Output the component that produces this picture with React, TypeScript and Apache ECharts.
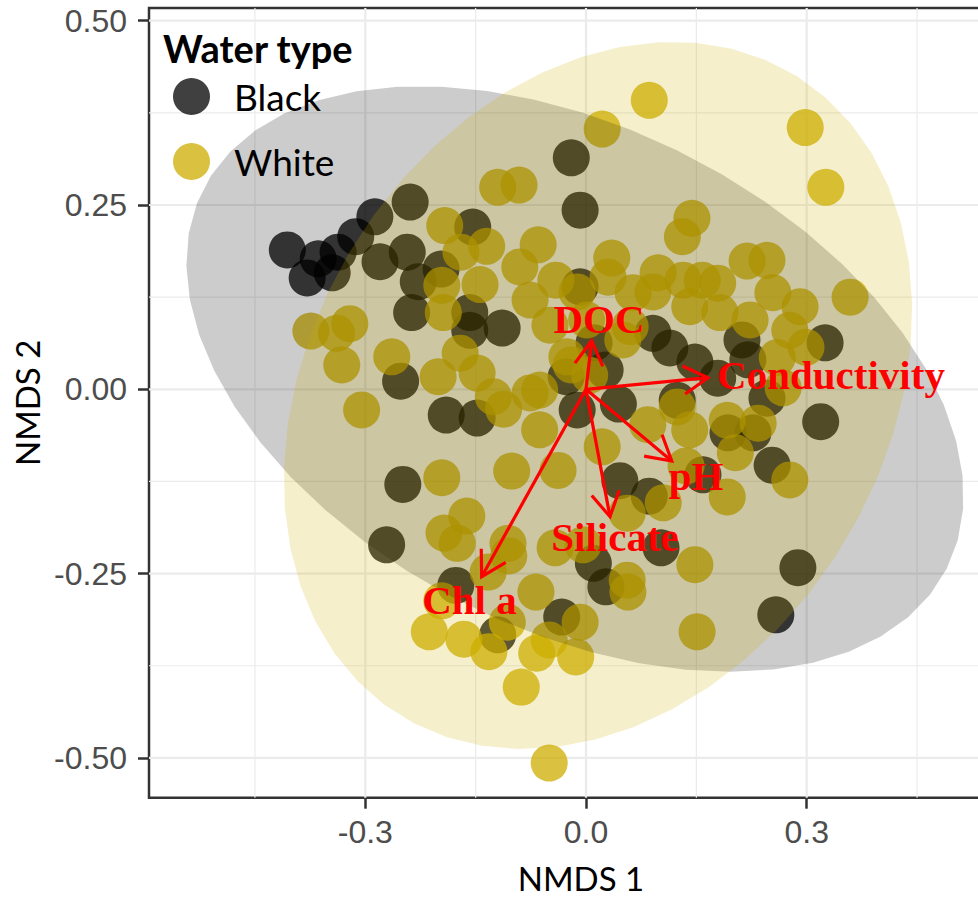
import { useEffect, useRef } from "react";
import * as echarts from "echarts";

// Axis layout (NMDS scores)
const xRange = [-0.594, 0.5804];
const yRange = [-0.554, 0.5172];
const xTicks = [-0.3, 0.0, 0.3];
const xMinor = [-0.45, -0.15, 0.15, 0.45];
const yTicks = [-0.5, -0.25, 0.0, 0.25, 0.5];
const yMinor = [-0.375, -0.125, 0.125, 0.375];

// Site scores by water type
const blackPoints = [
  [-0.406, 0.189], [-0.379, 0.151], [-0.364, 0.177], [-0.345, 0.158], [-0.337, 0.186],
  [-0.313, 0.207], [-0.287, 0.234], [-0.239, 0.254], [-0.28, 0.173], [-0.243, 0.186],
  [-0.228, 0.146], [-0.197, 0.163], [-0.154, 0.22], [-0.237, 0.104], [-0.158, 0.104],
  [-0.158, 0.08], [-0.114, 0.083], [-0.252, 0.011], [-0.19, -0.035], [-0.148, -0.039],
  [-0.249, -0.129], [-0.271, -0.211], [-0.02, 0.314], [-0.008, 0.243], [-0.008, 0.139],
  [0.091, 0.076], [0.114, 0.056], [0.148, 0.037], [0.026, 0.026], [-0.027, 0.017],
  [-0.012, -0.028], [0.044, -0.02], [0.124, -0.015], [0.179, 0.015], [0.212, 0.067],
  [0.22, 0.04], [0.246, -0.012], [0.325, 0.063], [0.319, -0.044], [0.193, -0.059],
  [0.227, -0.059], [0.253, -0.103], [0.046, -0.124], [0.086, -0.145], [0.159, -0.116],
  [0.102, -0.215], [0.01, -0.236], [0.027, -0.268], [-0.033, -0.309], [0.288, -0.242],
  [0.258, -0.306], [-0.177, -0.266], [-0.12, -0.333], [0.011, 0.063],
];

const whitePoints = [
  [0.086, 0.392], [0.022, 0.353], [0.298, 0.355], [0.326, 0.274], [-0.12, 0.274],
  [-0.091, 0.277], [0.144, 0.232], [0.131, 0.207], [-0.192, 0.222], [-0.135, 0.194],
  [-0.17, 0.186], [-0.065, 0.196], [-0.09, 0.166], [0.035, 0.178], [0.03, 0.152],
  [0.219, 0.174], [0.246, 0.175], [0.098, 0.158], [0.254, 0.131], [0.359, 0.125],
  [0.291, 0.112], [-0.041, 0.148], [0.158, 0.148], [0.179, 0.144], [0.132, 0.148],
  [0.091, 0.132], [0.064, 0.131], [-0.012, 0.132], [-0.076, 0.121], [-0.144, 0.142],
  [-0.194, 0.104], [-0.049, 0.087], [0.001, 0.094], [0.06, 0.085], [0.141, 0.112],
  [0.182, 0.104], [0.223, 0.094], [0.277, 0.08], [0.299, 0.057], [0.26, 0.043],
  [0.268, 0.002], [0.277, -0.123], [0.234, -0.046], [0.192, -0.042], [0.203, -0.086],
  [0.141, -0.055], [0.084, -0.048], [0.124, -0.024], [0.136, -0.104], [0.192, -0.146],
  [0.105, -0.154], [0.056, -0.168], [0.022, -0.078], [-0.038, -0.11], [-0.063, -0.055],
  [-0.063, -0.001], [0.005, 0.019], [-0.026, 0.044], [0.05, 0.067], [-0.374, 0.079],
  [-0.339, 0.076], [-0.321, 0.089], [-0.332, 0.033], [-0.305, -0.028], [-0.264, 0.044],
  [-0.201, 0.017], [-0.171, 0.049], [-0.148, 0.022], [-0.126, -0.01], [-0.112, -0.027],
  [-0.076, -0.005], [-0.101, -0.111], [-0.196, -0.12], [-0.162, -0.172], [-0.193, -0.195],
  [-0.175, -0.209], [-0.106, -0.209], [-0.042, -0.215], [-0.004, -0.211], [-0.133, -0.248],
  [-0.105, -0.226], [-0.068, -0.275], [-0.196, -0.287], [-0.107, -0.316], [-0.213, -0.329],
  [-0.166, -0.339], [-0.132, -0.356], [-0.088, -0.404], [-0.067, -0.358], [-0.05, -0.34],
  [-0.05, -0.507], [-0.014, -0.363], [-0.008, -0.316], [0.056, -0.259], [0.057, -0.275],
  [0.148, -0.238], [0.151, -0.329], [-0.02, 0.033], [-0.196, 0.141],
];

// 95% ellipses: centre x, centre y, semi-major, semi-minor, rotation (degrees)
const ellipseGroups = ["Black", "White"];
const ellipseParams = [
  [-0.015, 0.014, 0.5671, 0.3394, -27],
  [0.0163, -0.0084, 0.5106, 0.3897, 58],
];

// Fitted environmental vectors
const vectorNames = ["DOC", "Conductivity", "pH", "Silicate", "Chl a"];
const vectorEnds = [
  [0.0077, 0.0659],
  [0.1658, 0.0157],
  [0.1165, -0.0973],
  [0.0326, -0.1728],
  [-0.1418, -0.2542],
];
const vectorLabelPos = [
  [0.0177, 0.0954],
  [0.333, 0.0187],
  [0.1495, -0.1183],
  [0.0394, -0.201],
  [-0.1584, -0.2858],
];

const groupColors: Record<string, string> = { Black: "#000000", White: "#CDAD00" };
const ellipseFills = ["rgba(0,0,0,0.2)", "rgba(205,173,0,0.2)"];
const RED = "#FF0000";

export default function App() {
  const ref = useRef<HTMLDivElement>(null);

  useEffect(() => {
    if (!ref.current) return;
    const chart = echarts.init(ref.current, undefined, { renderer: "svg" });

    const gridLines = [
      ...xTicks.map((v) => ({ dir: "v", v, major: true })),
      ...xMinor.map((v) => ({ dir: "v", v, major: false })),
      ...yTicks.map((v) => ({ dir: "h", v, major: true })),
      ...yMinor.map((v) => ({ dir: "h", v, major: false })),
    ];

    const option: any = {
      animation: false,
      grid: {
        left: 149,
        top: 8,
        width: 864,
        height: 789.7,
        outerBoundsMode: "none",
        containLabel: false,
        show: true,
        borderColor: "#333333",
        borderWidth: 2.5,
        backgroundColor: "transparent",
      },
      xAxis: {
        type: "value",
        min: xRange[0],
        max: xRange[1],
        splitLine: { show: false },
        axisLine: { show: false, onZero: false },
        axisTick: {
          show: true,
          length: 11,
          customValues: xTicks,
          lineStyle: { color: "#333333", width: 2.5 },
        },
        axisLabel: {
          customValues: xTicks,
          formatter: (v: number) => v.toFixed(1),
          fontFamily: "Liberation Sans",
          fontSize: 32,
          color: "#4d4d4d",
          margin: 18,
        },
        name: "NMDS 1",
        nameLocation: "middle",
        nameGap: 64,
        nameTextStyle: { fontFamily: "Lato", fontSize: 33, color: "#000000" },
      },
      yAxis: {
        type: "value",
        min: yRange[0],
        max: yRange[1],
        splitLine: { show: false },
        axisLine: { show: false, onZero: false },
        axisTick: {
          show: true,
          length: 11,
          customValues: yTicks,
          lineStyle: { color: "#333333", width: 2.5 },
        },
        axisLabel: {
          customValues: yTicks,
          formatter: (v: number) => v.toFixed(2),
          fontFamily: "Liberation Sans",
          fontSize: 32,
          color: "#4d4d4d",
          margin: 22,
        },
        name: "NMDS 2",
        nameLocation: "middle",
        nameRotate: 90,
        nameGap: 100,
        nameTextStyle: { fontFamily: "Lato", fontSize: 33, color: "#000000" },
      },
      legend: {
        orient: "vertical",
        left: 173,
        top: 78,
        padding: 0,
        itemWidth: 37,
        itemHeight: 37,
        itemGap: 28,
        icon: "circle",
        selectedMode: false,
        data: ellipseGroups.map((g) => ({
          name: g,
          itemStyle: { color: groupColors[g], opacity: 0.75 },
        })),
        textStyle: {
          fontFamily: "Lato",
          fontSize: 37,
          lineHeight: 37,
          color: "#000000",
          padding: [0, 0, 0, 19],
        },
      },
      graphic: [
        {
          type: "text",
          left: 163,
          top: 29,
          silent: true,
          style: {
            text: "Water type",
            fill: "#000000",
            font: 'bold 38px "Lato"',
          },
        },
      ],
      series: [
        {
          type: "custom",
          name: "gridlines",
          silent: true,
          z: 1,
          data: gridLines.map((g) => (g.dir === "v" ? [g.v, 0] : [0, g.v])),
          renderItem: (params: any, api: any) => {
            const g = gridLines[params.dataIndex];
            const p1 = g.dir === "v" ? api.coord([g.v, yRange[0]]) : api.coord([xRange[0], g.v]);
            const p2 = g.dir === "v" ? api.coord([g.v, yRange[1]]) : api.coord([xRange[1], g.v]);
            return {
              type: "line",
              shape: { x1: p1[0], y1: p1[1], x2: p2[0], y2: p2[1] },
              style: { stroke: "#EBEBEB", lineWidth: g.major ? 2.2 : 1.2 },
            };
          },
        },
        {
          type: "scatter",
          name: "Black",
          z: 2,
          symbol: "circle",
          symbolSize: 37,
          itemStyle: { color: groupColors.Black, opacity: 0.75 },
          data: blackPoints,
        },
        {
          type: "scatter",
          name: "White",
          z: 2,
          symbol: "circle",
          symbolSize: 37,
          itemStyle: { color: groupColors.White, opacity: 0.75 },
          data: whitePoints,
        },
        {
          type: "custom",
          name: "ellipses",
          silent: true,
          z: 3,
          data: ellipseParams,
          renderItem: (params: any, api: any) => {
            const cx = api.value(0);
            const cy = api.value(1);
            const a = api.value(2);
            const b = api.value(3);
            const t = (api.value(4) * Math.PI) / 180;
            const pts: number[][] = [];
            const n = 51;
            for (let k = 0; k < n; k++) {
              const u = (2 * Math.PI * k) / n;
              const ex = a * Math.cos(u);
              const ey = b * Math.sin(u);
              pts.push(
                api.coord([
                  cx + ex * Math.cos(t) - ey * Math.sin(t),
                  cy + ex * Math.sin(t) + ey * Math.cos(t),
                ])
              );
            }
            return {
              type: "polygon",
              shape: { points: pts },
              style: { fill: ellipseFills[params.dataIndex], stroke: "none" },
            };
          },
        },
        {
          type: "custom",
          name: "vectors",
          silent: true,
          z: 4,
          data: vectorEnds,
          renderItem: (params: any, api: any) => {
            const o = api.coord([0, 0]);
            const p = api.coord([api.value(0), api.value(1)]);
            const ang = Math.atan2(p[1] - o[1], p[0] - o[0]);
            const len = 28;
            const half = Math.PI / 6;
            const b1 = [p[0] - len * Math.cos(ang - half), p[1] - len * Math.sin(ang - half)];
            const b2 = [p[0] - len * Math.cos(ang + half), p[1] - len * Math.sin(ang + half)];
            return {
              type: "group",
              children: [
                {
                  type: "line",
                  shape: { x1: o[0], y1: o[1], x2: p[0], y2: p[1] },
                  style: { stroke: RED, lineWidth: 3.2 },
                },
                {
                  type: "polyline",
                  shape: { points: [b1, p, b2] },
                  style: { stroke: RED, lineWidth: 3.2, fill: "none" },
                },
              ],
            };
          },
        },
        {
          type: "custom",
          name: "vector labels",
          silent: true,
          z: 5,
          data: vectorLabelPos,
          renderItem: (params: any, api: any) => {
            const p = api.coord([api.value(0), api.value(1)]);
            return {
              type: "text",
              x: p[0],
              y: p[1],
              style: {
                text: vectorNames[params.dataIndex],
                fill: RED,
                font: 'bold 41px "Liberation Serif"',
                align: "center",
                verticalAlign: "middle",
              },
            };
          },
        },
      ],
    };

    chart.setOption(option);
    return () => chart.dispose();
  }, []);

  return (
    <div
      ref={ref}
      style={{ position: "absolute", left: 0, top: 0, width: 978, height: 897, background: "#ffffff" }}
    />
  );
}
